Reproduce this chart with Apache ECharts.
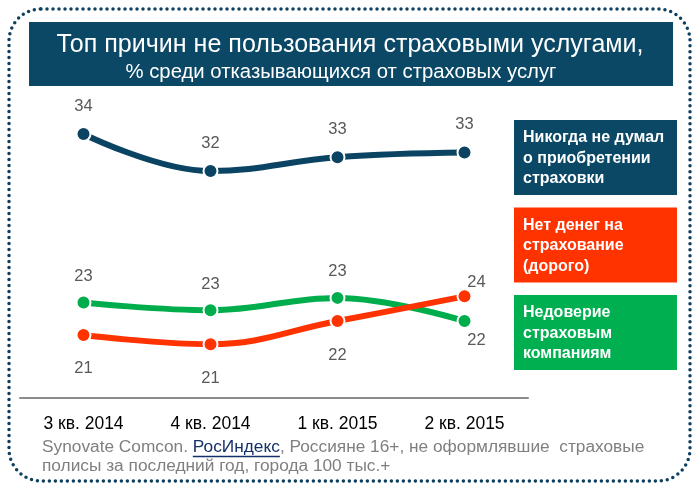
<!DOCTYPE html>
<html><head><meta charset="utf-8">
<script src="https://cdn.jsdelivr.net/npm/echarts@6/dist/echarts.min.js"></script>
<style>html,body{margin:0;padding:0;background:#fff}#c{width:700px;height:492px}</style>
</head><body><div id="c"></div>
<script>
const categories = ['3 кв. 2014', '4 кв. 2014', '1 кв. 2015', '2 кв. 2015'];
const seriesNames = ['Никогда не думал о приобретении страховки', 'Нет денег на страхование (дорого)', 'Недоверие страховым компаниям'];
const neverThought = [34.0, 31.6, 32.5, 32.8];
const noMoney = [21.0, 20.4, 21.9, 23.5];
const distrust = [23.1, 22.6, 23.4, 21.9];
const neverThoughtLabels = [34, 32, 33, 33];
const noMoneyLabels = [21, 21, 22, 24];
const distrustLabels = [23, 23, 23, 22];
const legendLines = [
  ['Никогда не думал', 'о приобретении', 'страховки'],
  ['Нет денег на', 'страхование', '(дорого)'],
  ['Недоверие', 'страховым', 'компаниям']
];
const titleMain = 'Топ причин не пользования страховыми услугами,';
const titleSub = '% среди отказывающихся от страховых услуг';
const srcA = 'Synovate Comcon. ';
const srcLink = 'РосИндекс';
const srcB = ', Россияне 16+, не оформлявшие  страховые';
const srcLine2 = 'полисы за последний год, города 100 тыс.+';

// styles (kept separate from data)
const colors = ['#0b4463', '#ff3300', '#00ad4c'];
const boxColors = ['#0a4866', '#ff3300', '#00b050'];
const offNavy = [[0,-28],[0,-28],[0,-28],[0,-28]];
const offRed = [[0,33],[0,34],[0,34],[12,-14]];
const offGreen = [[0,-26],[0,-26],[0,-26],[12,19]];

const sans = "'Liberation Sans', Arial, sans-serif";

function mkSeries(name, vals, labels, offs, color) {
  return {
    name, type: 'line', smooth: 0.4, symbol: 'circle', symbolSize: 14,
    lineStyle: { width: 6, color },
    itemStyle: { color, borderColor: '#fff', borderWidth: 2 },
    z: 3,
    data: vals.map((v, i) => ({
      value: v,
      label: { show: true, position: 'inside', offset: offs[i],
        formatter: () => String(labels[i]),
        color: '#595959', fontSize: 16.5, fontFamily: sans }
    }))
  };
}

const ctx = document.createElement('canvas').getContext('2d');
const srcFont = '17.3px ' + sans;
ctx.font = srcFont;
const wA = ctx.measureText(srcA).width;
const wL = ctx.measureText(srcLink).width;
const mainFont = '26.5px ' + sans;
ctx.font = mainFont;
const sMain = 587 / ctx.measureText(titleMain).width;
const subFont = '20.5px ' + sans;
ctx.font = subFont;
const sSub = 431 / ctx.measureText(titleSub).width;

const graphics = [
  { type: 'rect', shape: { x: 9, y: 9, width: 681, height: 472, r: 32 },
    style: { fill: null, stroke: '#0d3f5e', lineWidth: 3.5, lineDash: [0, 6], lineCap: 'round' }, silent: true },
  { type: 'rect', shape: { x: 29, y: 22, width: 644, height: 64 }, style: { fill: '#0a4866' } },
  { type: 'text', x: 350, y: 45, scaleX: sMain, style: { text: titleMain, fill: '#fff', font: mainFont, textAlign: 'center', textVerticalAlign: 'middle' } },
  { type: 'text', x: 341, y: 72, scaleX: sSub, style: { text: titleSub, fill: '#fff', font: subFont, textAlign: 'center', textVerticalAlign: 'middle' } },
  { type: 'text', x: 42, y: 447, style: { text: srcA, fill: '#7f7f7f', font: srcFont, textVerticalAlign: 'middle' } },
  { type: 'text', x: 42 + wA, y: 447, style: { text: srcLink, fill: '#14306b', font: srcFont, textVerticalAlign: 'middle' } },
  { type: 'line', shape: { x1: 42 + wA, y1: 456.5, x2: 42 + wA + wL, y2: 456.5 }, style: { stroke: '#14306b', lineWidth: 1.4 } },
  { type: 'text', x: 42 + wA + wL, y: 447, style: { text: srcB, fill: '#7f7f7f', font: srcFont, textVerticalAlign: 'middle' } },
  { type: 'text', x: 42, y: 466.5, style: { text: srcLine2, fill: '#7f7f7f', font: srcFont, textVerticalAlign: 'middle' } }
];
legendLines.forEach((lines, k) => {
  const top = 120 + k * 87.5;
  graphics.push({ type: 'rect', shape: { x: 514, y: top, width: 163, height: 75 }, style: { fill: boxColors[k] } });
  graphics.push({ type: 'text', x: 523, y: top + 38.5, style: { text: lines.join('\n'), fill: '#fff', font: 'bold 16px ' + sans, lineHeight: 20.5, textVerticalAlign: 'middle' } });
});

const chart = echarts.init(document.getElementById('c'), null, { renderer: 'canvas' });
chart.setOption({
  animation: false,
  grid: { left: 20, right: 172, top: 103.08, bottom: 110.64 },
  xAxis: { type: 'category', data: categories, boundaryGap: true, offset: 16.6,
    axisLine: { lineStyle: { color: '#8c8c8c', width: 2 } }, axisTick: { show: false },
    axisLabel: { color: '#000', fontSize: 17.5, fontFamily: sans, margin: 17 } },
  yAxis: { type: 'value', min: 18, max: 36, show: false, splitLine: { show: false } },
  series: [
    mkSeries(seriesNames[0], neverThought, neverThoughtLabels, offNavy, colors[0]),
    mkSeries(seriesNames[2], distrust, distrustLabels, offGreen, colors[2]),
    mkSeries(seriesNames[1], noMoney, noMoneyLabels, offRed, colors[1])
  ],
  graphic: graphics
});
</script></body></html>
